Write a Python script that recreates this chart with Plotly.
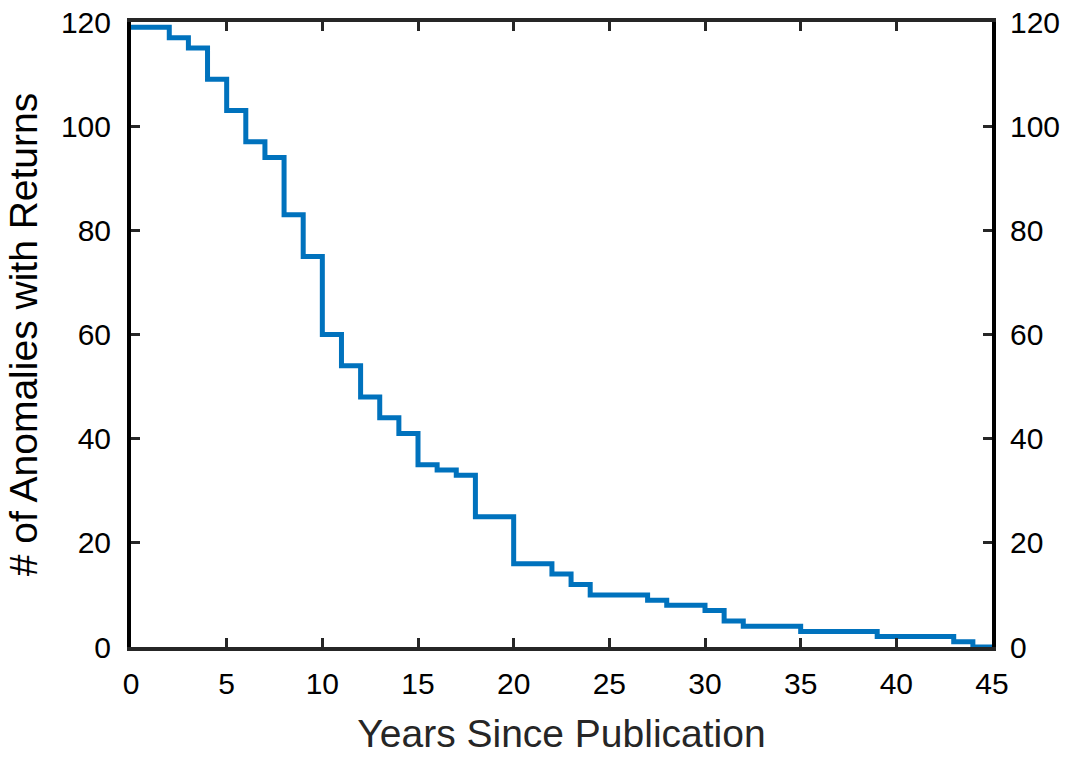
import plotly.graph_objects as go

# Step start years and number of anomalies with returns
years = [0, 2, 3, 4, 5, 6, 7, 8, 9, 10, 11, 12, 13, 14, 15, 16, 17, 18, 20, 22, 23, 24,
         27, 28, 30, 31, 32, 35, 39, 43, 44, 45]
counts = [119, 117, 115, 109, 103, 97, 94, 83, 75, 60, 54, 48, 44, 41, 35, 34, 33, 25, 16,
          14, 12, 10, 9, 8, 7, 5, 4, 3, 2, 1, 0, 0]

x_ticks = [0, 5, 10, 15, 20, 25, 30, 35, 40, 45]
y_ticks = [0, 20, 40, 60, 80, 100, 120]

FONT = "Liberation Sans, Arial, Helvetica, sans-serif"
TXT = "#262626"

fig = go.Figure()
fig.add_trace(go.Scatter(
    x=years, y=counts, mode="lines", line=dict(shape="hv", color="#0072BD", width=5),
    showlegend=False, hoverinfo="x+y"))
# invisible copy to activate the right-hand axis
fig.add_trace(go.Scatter(
    x=years, y=counts, mode="lines", line=dict(shape="hv", color="rgba(0,0,0,0)", width=0),
    showlegend=False, hoverinfo="skip", yaxis="y2"))

axis_common = dict(
    showgrid=False, zeroline=False, ticks="inside", ticklen=9, tickwidth=3,
    tickcolor=TXT, showline=True, linewidth=4, automargin=False,
    tickfont=dict(family=FONT, size=30, color="#000000"),
)

fig.update_layout(
    width=1068, height=759,
    paper_bgcolor="white", plot_bgcolor="white",
    margin=dict(l=131, r=76, t=22, b=112),
    font=dict(family=FONT, color=TXT),
    xaxis=dict(
        range=[0, 45], tickvals=x_ticks, mirror="ticks", linecolor=TXT,
        ticklabelstandoff=7,
        title=dict(text="Years Since Publication", font=dict(family=FONT, size=39, color=TXT),
                   standoff=22),
        **axis_common),
    yaxis=dict(
        range=[0, 120], tickvals=y_ticks, mirror="ticks", linecolor="#000000",
        ticklabelstandoff=10,
        title=dict(text="# of Anomalies with Returns", font=dict(family=FONT, size=39, color="#000000"),
                   standoff=12),
        **axis_common),
    yaxis2=dict(
        range=[0, 120], tickvals=y_ticks, overlaying="y", side="right", linecolor="#000000",
        ticklabelstandoff=8,
        **axis_common),
)

fig.write_html("out.html", config={"displayModeBar": False},
               post_script="document.body.style.margin='0';document.body.style.overflow='hidden';")
